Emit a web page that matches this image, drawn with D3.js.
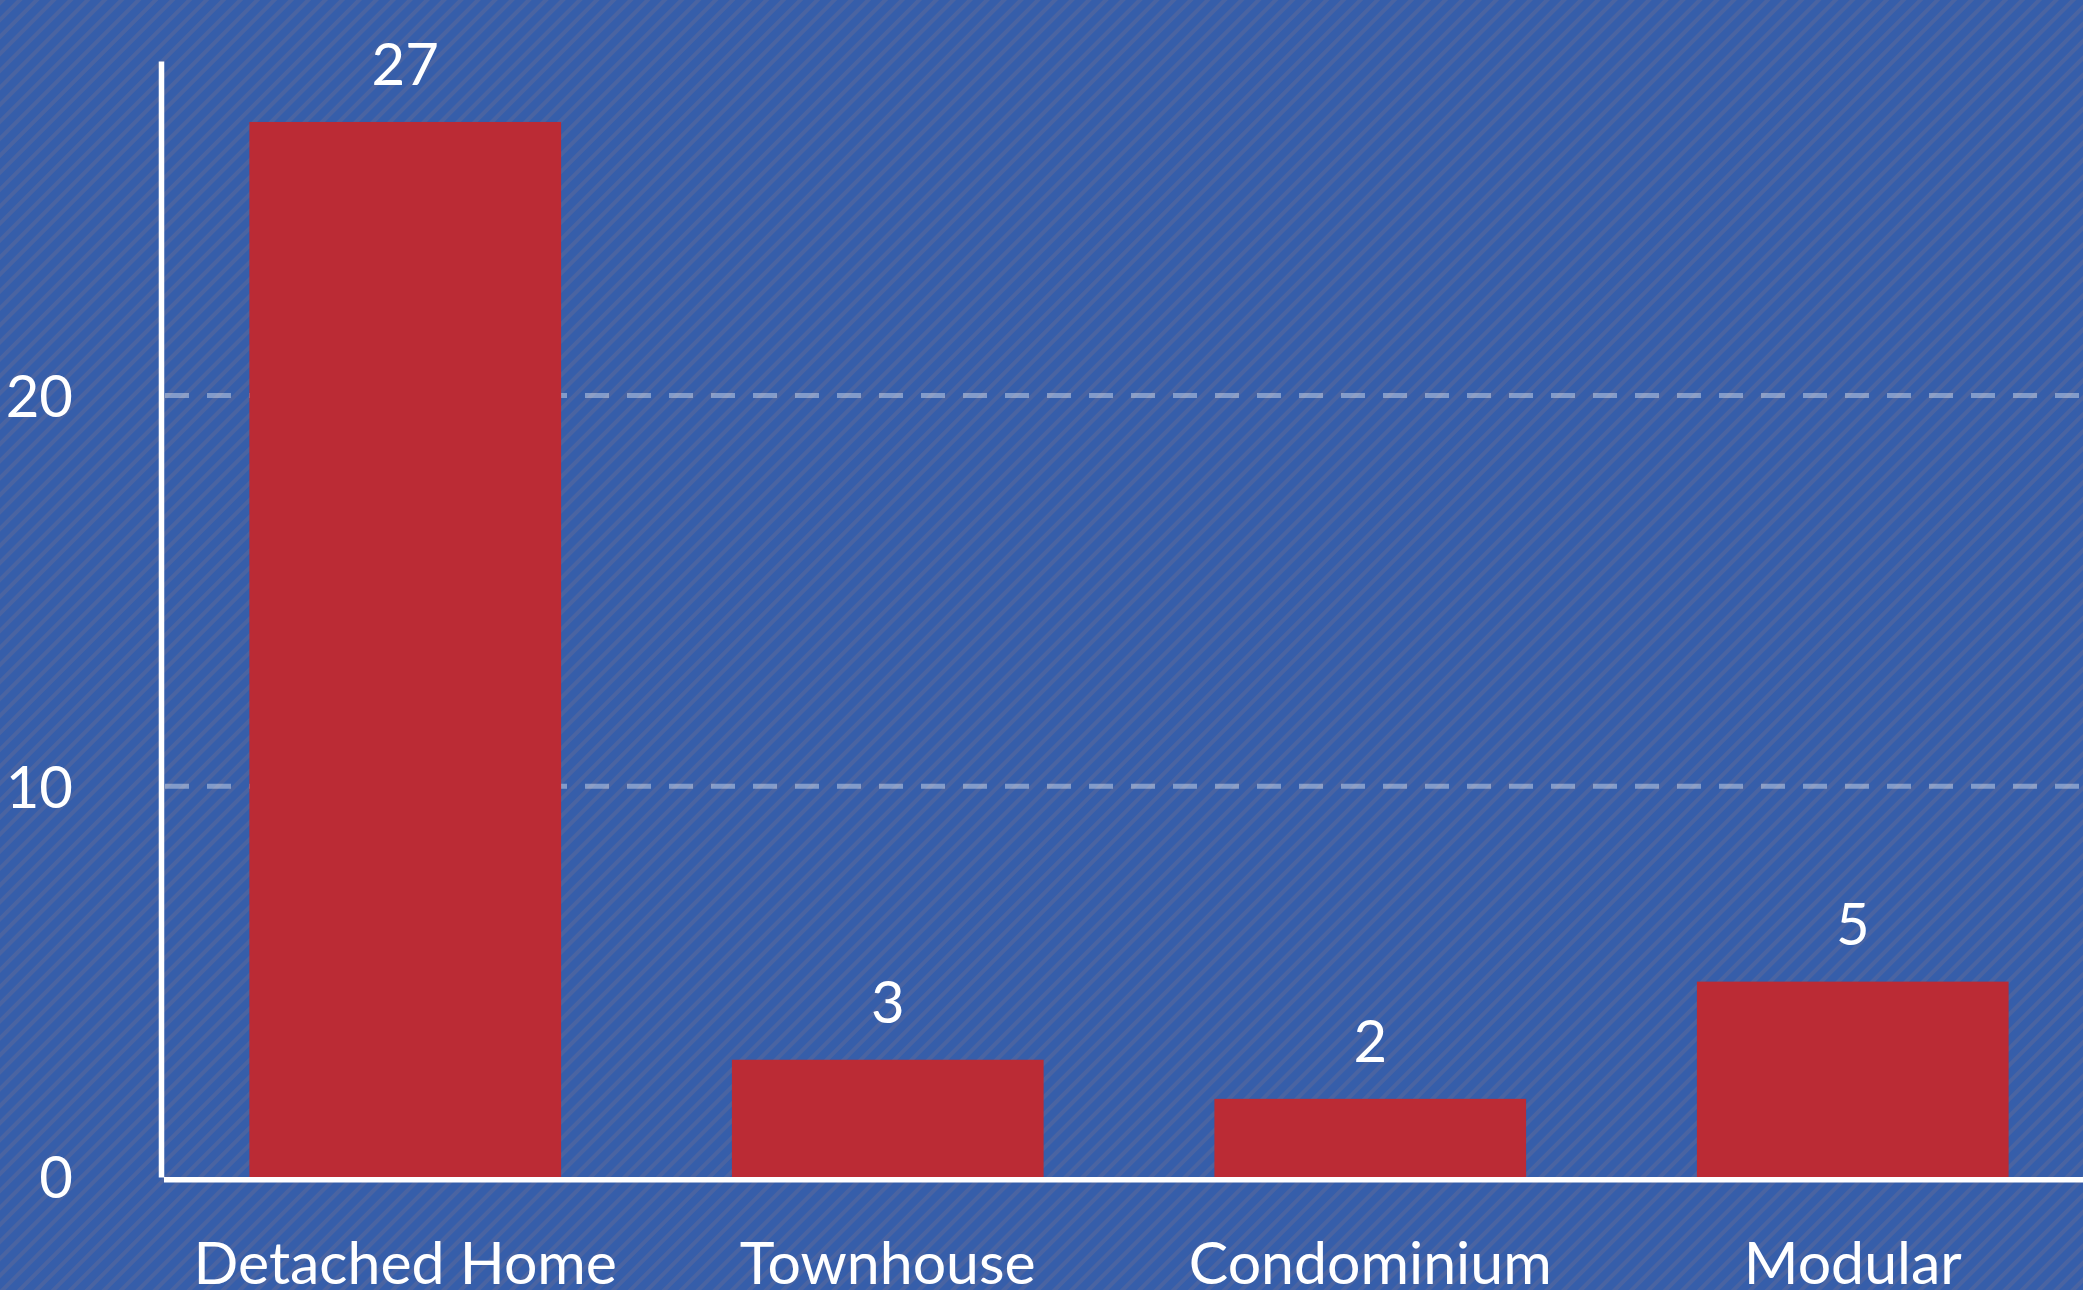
<!DOCTYPE html>
<html>
<head>
<meta charset="utf-8">
<script src="https://cdn.jsdelivr.net/npm/d3@7"></script>
<style>
  html, body { margin: 0; padding: 0; background: #365eaa; overflow: hidden; }
  svg { display: block; font-family: Lato, "Noto Sans", sans-serif; }
</style>
</head>
<body>
<svg id="chart" width="2083" height="1290"></svg>
<script>
// Data
const categories = ['Detached Home', 'Townhouse', 'Condominium', 'Modular'];
const counts = [27, 3, 2, 5];
const yTicks = [0, 10, 20];
const yMax = 28.56;

const width = 2083;
const height = 1290;
const margin = { top: 61, left: 161, bottom: 113 };

const svg = d3.select('#chart');

// Striped background
const defs = svg.append('defs');
const pattern = defs
  .append('pattern')
  .attr('id', 'stripes')
  .attr('patternUnits', 'userSpaceOnUse')
  .attr('width', 12)
  .attr('height', 12)
  .attr('patternTransform', 'rotate(45)');
pattern.append('rect').attr('width', 12).attr('height', 12).attr('fill', '#365eaa');
pattern.append('rect').attr('width', 4).attr('height', 12).attr('fill', '#4a64a2');

svg.append('rect').attr('width', width).attr('height', height).attr('fill', 'url(#stripes)');

// Scales
const x = d3
  .scaleBand()
  .domain(categories)
  .range([164, 2094])
  .paddingInner(0.354)
  .paddingOuter(0.177);

const y = d3
  .scaleLinear()
  .domain([0, yMax])
  .range([height - margin.bottom, margin.top]);

// Dashed gridlines (behind bars)
svg
  .append('g')
  .selectAll('line')
  .data(yTicks.filter((d) => d > 0))
  .join('line')
  .attr('x1', 165)
  .attr('x2', width)
  .attr('y1', (d) => y(d))
  .attr('y2', (d) => y(d))
  .attr('stroke', 'rgba(255,255,255,0.38)')
  .attr('stroke-width', 5)
  .attr('stroke-dasharray', '24 18');

// Bars
svg
  .append('g')
  .selectAll('rect')
  .data(counts)
  .join('rect')
  .attr('x', (d, i) => x(categories[i]))
  .attr('width', x.bandwidth())
  .attr('y', (d) => y(d))
  .attr('height', (d) => y(0) - y(d))
  .attr('fill', '#bb2b35');

// Value labels
svg
  .append('g')
  .selectAll('text')
  .data(counts)
  .join('text')
  .attr('x', (d, i) => x(categories[i]) + x.bandwidth() / 2)
  .attr('y', (d) => y(d) - 37)
  .attr('text-anchor', 'middle')
  .attr('fill', '#fff')
  .attr('font-size', 58)
  .text((d) => d);

// Y axis
const yAxis = svg
  .append('g')
  .attr('transform', `translate(${margin.left},0)`)
  .call(d3.axisLeft(y).tickValues(yTicks).tickSize(0).tickPadding(88));
yAxis.select('.domain').attr('stroke', '#fff').attr('stroke-width', 5.5);
yAxis
  .selectAll('.tick text')
  .attr('fill', '#fff')
  .attr('font-size', 58)
  .attr('font-family', 'Lato, "Noto Sans", sans-serif')
  .attr('dy', '0.36em');

// X axis
const xAxis = svg
  .append('g')
  .attr('transform', `translate(0,${y(0) + 2.75})`)
  .call(d3.axisBottom(x).tickSize(0));
xAxis
  .select('.domain')
  .attr('d', `M164,0H${width}`)
  .attr('stroke', '#fff')
  .attr('stroke-width', 5.5);
xAxis
  .selectAll('.tick text')
  .attr('fill', '#fff')
  .attr('font-size', 59)
  .attr('font-family', 'Lato, "Noto Sans", sans-serif')
  .attr('dy', 0)
  .attr('y', 104);
</script>
</body>
</html>
